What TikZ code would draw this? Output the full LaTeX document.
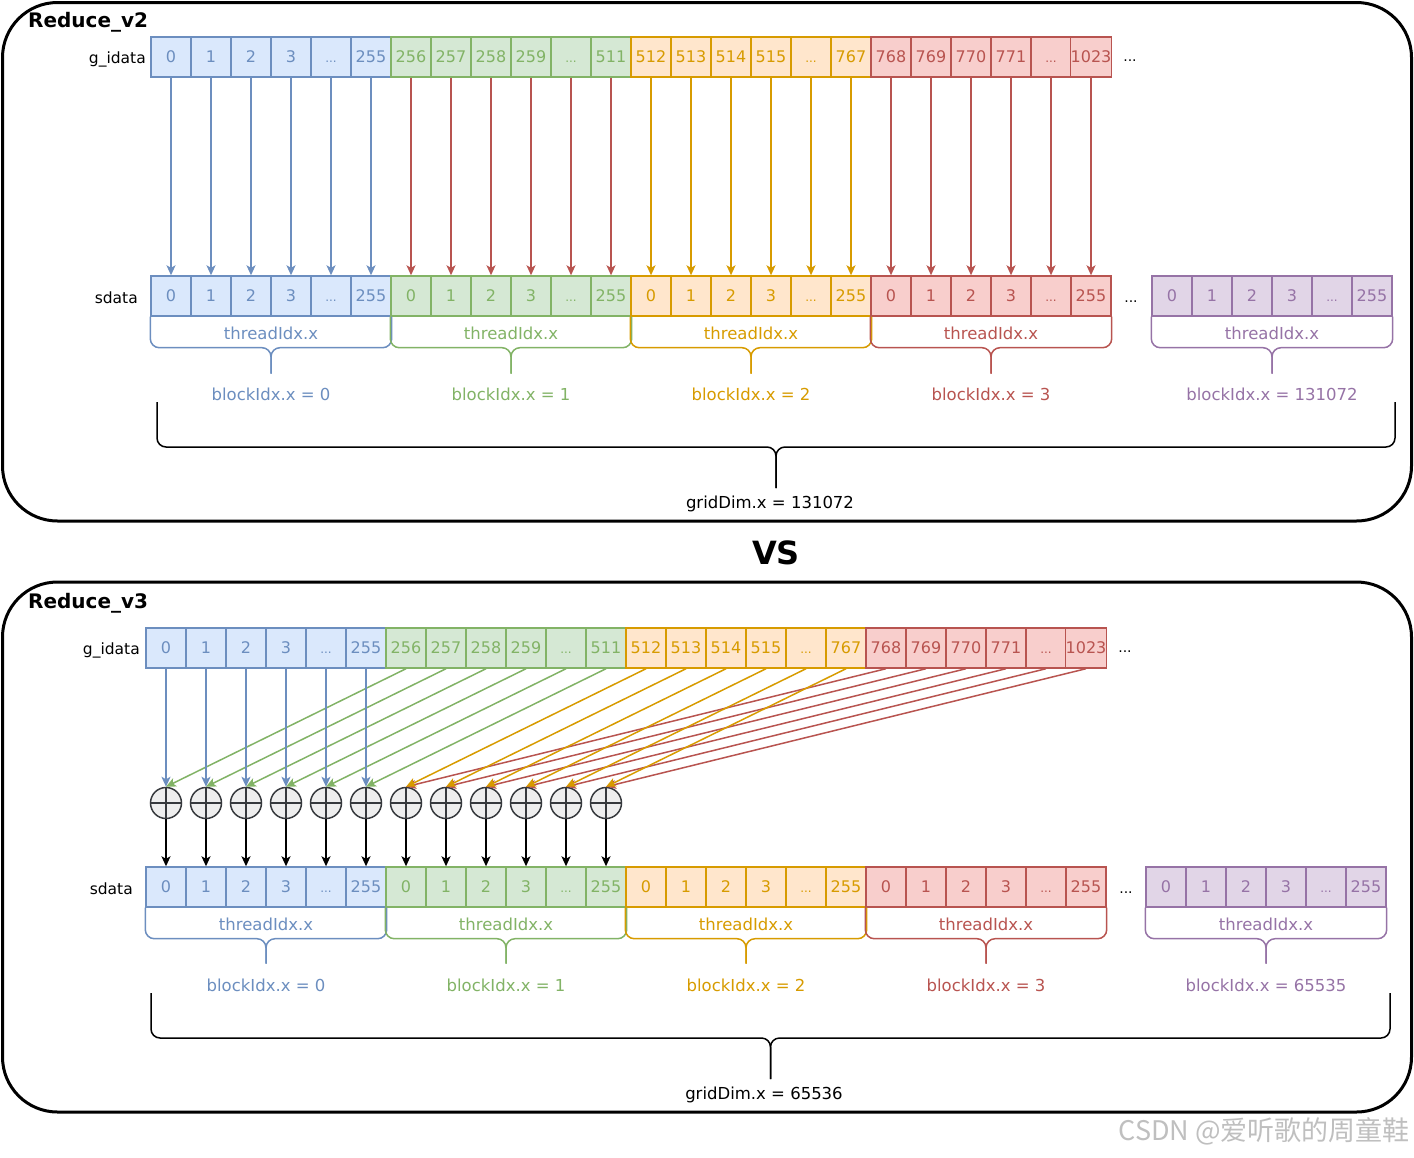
\documentclass[tikz,border=0pt]{standalone}
\usepackage{fontspec}
\setmainfont{DejaVu Sans}
\newfontfamily\cjkfont{Noto Sans CJK SC}
\usetikzlibrary{calc,arrows.meta}
\definecolor{bF}{HTML}{DAE8FC}\definecolor{bS}{HTML}{6C8EBF}
\definecolor{gF}{HTML}{D5E8D4}\definecolor{gS}{HTML}{82B366}
\definecolor{oF}{HTML}{FFE6CC}\definecolor{oS}{HTML}{D79B00}
\definecolor{rF}{HTML}{F8CECC}\definecolor{rS}{HTML}{B85450}
\definecolor{pF}{HTML}{E1D5E7}\definecolor{pS}{HTML}{9673A6}
\definecolor{cF}{HTML}{EEEEEE}\definecolor{cS}{HTML}{36393D}
\newcommand\celldots{\vphantom{0}{\fontsize{12}{12}\selectfont...}}
\newcommand\cbrace[5]{%
  \draw[#1, line width=1.5pt, rounded corners=9pt] (#2) -- ++(0,#4) -| ($(#2)!0.5!(#3)+(0,#5)$);
  \draw[#1, line width=1.5pt, rounded corners=9pt] (#3) -- ++(0,#4) -| ($(#2)!0.5!(#3)+(0,#5)$);
}
\begin{document}
\begin{tikzpicture}[x=1pt,y=-1pt,
  cell/.style={draw, line width=1.4pt, minimum width=40pt, minimum height=40pt, inner sep=0pt, font=\fontsize{16}{16}\selectfont},
  grp0/.style={fill=bF, draw=bS, text=bS},
  grp1/.style={fill=gF, draw=gS, text=gS},
  grp2/.style={fill=oF, draw=oS, text=oS},
  grp3/.style={fill=rF, draw=rS, text=rS},
  grp4/.style={fill=pF, draw=pS, text=pS},
  arr/.style={line width=1.5pt, -{Stealth[length=10pt, width=9pt, inset=2.5pt]}},
  acol0/.style={draw=bS, fill=bS},
  acol1/.style={draw=rS, fill=rS},
  acol2/.style={draw=oS, fill=oS},
  acol3/.style={draw=rS, fill=rS},
  lbl/.style={font=\fontsize{16.5}{16.5}\selectfont, inner sep=1pt},
  side/.style={font=\fontsize{15.5}{15.5}\selectfont, anchor=east, inner sep=0pt},
  ttl/.style={font=\bfseries\fontsize{20}{20}\selectfont, anchor=west, inner sep=0pt},
  plus/.style={circle, draw=cS, fill=cF, line width=1.5pt, minimum size=31pt, inner sep=0pt,
    path picture={\draw[cS, line width=1.5pt] (path picture bounding box.north) -- (path picture bounding box.south) (path picture bounding box.west) -- (path picture bounding box.east);}},
  panel/.style={line width=3pt, rounded corners=55pt}
]
\useasboundingbox (0,0) rectangle (1414,1157);

% ================= Reduce_v2 =================
\draw[panel] (2.5,2.5) rectangle (1411.5,521);
\node[ttl] (t2) at (28,22) {Reduce\_v2};
\node[side] (gAlab) at (146,59) {g\_idata};
\node[side] (sAlab) at (138,298) {sdata};

\foreach \t [count=\i from 0] in {0,1,2,3,\celldots,255,256,257,258,259,\celldots,511,512,513,514,515,\celldots,767,768,769,770,771,\celldots,1023}{
  \pgfmathtruncatemacro\g{\i/6}
  \node[cell, grp\g] (gA\i) at (171+40*\i,57) {\t};
}
\node[font=\fontsize{14}{14}\selectfont] (gAdots) at (1130,61) {...};

\foreach \g in {0,...,3}{
  \foreach \t [count=\k from 0] in {0,1,2,3,\celldots,255}{
    \pgfmathtruncatemacro\i{6*\g+\k}
    \node[cell, grp\g] (sA\i) at (171+40*\i,296) {\t};
  }
}
\foreach \t [count=\k from 0] in {0,1,2,3,\celldots,255}{
  \node[cell, grp4] (sAp\k) at (1172+40*\k,296) {\t};
}
\node[font=\fontsize{14}{14}\selectfont] (sAdots) at (1131,302) {...};

\foreach \i in {0,...,23}{
  \pgfmathtruncatemacro\g{\i/6}
  \draw[arr, acol\g] (gA\i) -- (sA\i);
}

\cbrace{bS}{sA0.south west}{sA5.south east}{31}{57}
\cbrace{gS}{sA6.south west}{sA11.south east}{31}{57}
\cbrace{oS}{sA12.south west}{sA17.south east}{31}{57}
\cbrace{rS}{sA18.south west}{sA23.south east}{31}{57}
\cbrace{pS}{sAp0.south west}{sAp5.south east}{31}{57}

\node[lbl, text=bS] (thA0) at (271,333) {threadIdx.x};
\node[lbl, text=gS] (thA1) at (511,333) {threadIdx.x};
\node[lbl, text=oS] (thA2) at (751,333) {threadIdx.x};
\node[lbl, text=rS] (thA3) at (991,333) {threadIdx.x};
\node[lbl, text=pS] (thA4) at (1272,333) {threadIdx.x};

\node[lbl, text=bS] (bkA0) at (271,394) {blockIdx.x = 0};
\node[lbl, text=gS] (bkA1) at (511,394) {blockIdx.x = 1};
\node[lbl, text=oS] (bkA2) at (751,394) {blockIdx.x = 2};
\node[lbl, text=rS] (bkA3) at (991,394) {blockIdx.x = 3};
\node[lbl, text=pS] (bkA4) at (1272,394) {blockIdx.x = 131072};

\coordinate (gbAL) at (157,402);
\coordinate (gbAR) at (1395,402);
\cbrace{black}{gbAL}{gbAR}{45}{86}
\node[lbl] (gdA) at (770,504) {gridDim.x = 131072};

\node[font=\bfseries\fontsize{32}{32}\selectfont] (vs) at (776,553) {VS};

% ================= Reduce_v3 =================
\draw[panel] (2.5,582) rectangle (1411.5,1112);
\node[ttl] (t3) at (28,603) {Reduce\_v3};
\node[side] (gBlab) at (140,650) {g\_idata};
\node[side] (sBlab) at (133,889) {sdata};

\foreach \t [count=\i from 0] in {0,1,2,3,\celldots,255,256,257,258,259,\celldots,511,512,513,514,515,\celldots,767,768,769,770,771,\celldots,1023}{
  \pgfmathtruncatemacro\g{\i/6}
  \node[cell, grp\g] (gB\i) at (166+40*\i,648) {\t};
}
\node[font=\fontsize{14}{14}\selectfont] (gBdots) at (1125,652) {...};

\foreach \g in {0,...,3}{
  \foreach \t [count=\k from 0] in {0,1,2,3,\celldots,255}{
    \pgfmathtruncatemacro\i{6*\g+\k}
    \node[cell, grp\g] (sB\i) at (166+40*\i,887) {\t};
  }
}
\foreach \t [count=\k from 0] in {0,1,2,3,\celldots,255}{
  \node[cell, grp4] (sBp\k) at (1166+40*\k,887) {\t};
}
\node[font=\fontsize{14}{14}\selectfont] (sBdots) at (1126,893) {...};

\foreach \k in {0,...,11}{
  \node[plus] (c\k) at (166+40*\k,803) {};
}

% red and orange (to circles 6..11), green then blue (to circles 0..5)
\foreach \k in {0,...,5}{
  \pgfmathtruncatemacro\r{18+\k}
  \pgfmathtruncatemacro\o{12+\k}
  \pgfmathtruncatemacro\c{6+\k}
  \draw[arr, acol3] (gB\r.south) -- (c\c.north);
  \draw[arr, acol2] (gB\o.south) -- (c\c.north);
  \draw[arr, draw=gS, fill=gS] (gB\c.south) -- (c\k.north);
  \draw[arr, acol0] (gB\k) -- (c\k);
}
\foreach \k in {0,...,11}{
  \draw[arr, draw=black, fill=black] (c\k) -- (sB\k);
}

\cbrace{bS}{sB0.south west}{sB5.south east}{31}{56}
\cbrace{gS}{sB6.south west}{sB11.south east}{31}{56}
\cbrace{oS}{sB12.south west}{sB17.south east}{31}{56}
\cbrace{rS}{sB18.south west}{sB23.south east}{31}{56}
\cbrace{pS}{sBp0.south west}{sBp5.south east}{31}{56}

\node[lbl, text=bS] (thB0) at (266,924) {threadIdx.x};
\node[lbl, text=gS] (thB1) at (506,924) {threadIdx.x};
\node[lbl, text=oS] (thB2) at (746,924) {threadIdx.x};
\node[lbl, text=rS] (thB3) at (986,924) {threadIdx.x};
\node[lbl, text=pS] (thB4) at (1266,924) {threadIdx.x};

\node[lbl, text=bS] (bkB0) at (266,985) {blockIdx.x = 0};
\node[lbl, text=gS] (bkB1) at (506,985) {blockIdx.x = 1};
\node[lbl, text=oS] (bkB2) at (746,985) {blockIdx.x = 2};
\node[lbl, text=rS] (bkB3) at (986,985) {blockIdx.x = 3};
\node[lbl, text=pS] (bkB4) at (1266,985) {blockIdx.x = 65535};

\coordinate (gbBL) at (151,993);
\coordinate (gbBR) at (1390,993);
\cbrace{black}{gbBL}{gbBR}{45}{86}
\node[lbl] (gdB) at (764,1095) {gridDim.x = 65536};

\node[anchor=east, text=black!25, inner sep=0pt, font=\cjkfont\fontsize{27}{27}\selectfont] (wm) at (1410,1131) {CSDN @爱听歌的周童鞋};
\end{tikzpicture}
\end{document}
